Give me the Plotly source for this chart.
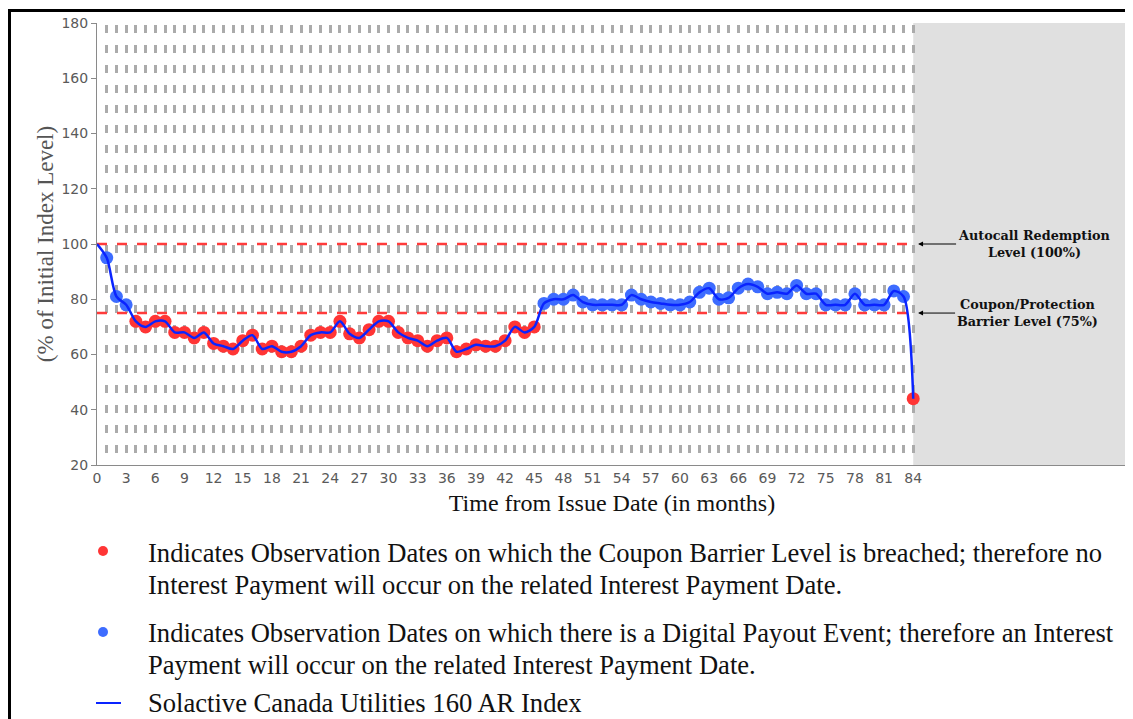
import plotly.graph_objects as go

# ---------------- data ----------------
months = list(range(0, 85))
index_level = [
    100, 95, 81, 78, 72, 70, 72, 72, 68, 68,        # 0-9
    66, 68, 64, 63, 62, 65, 67, 62, 63, 61,         # 10-19
    61, 63, 67, 68, 68, 72, 67.5, 66, 69, 72,       # 20-29
    72, 68, 66, 65, 63, 65, 66, 61, 62, 63.5,       # 30-39
    63, 63, 65, 70, 68, 70, 78.5, 80, 80, 81.5,     # 40-49
    79, 78, 78, 78, 78, 81.5, 80, 79, 78.5, 78,     # 50-59
    78, 79, 82.5, 84, 80, 80.5, 84, 85.5, 84.5, 82, # 60-69
    82.5, 82, 85, 82, 82, 78, 78, 78, 82, 78,       # 70-79
    78, 78, 83, 81, 44,                             # 80-84
]
autocall_level = 100
coupon_barrier = 75
maturity_month = 84
x_tick_labels = [str(m) if m % 3 == 0 else "" for m in months]
y_tick_values = [20, 40, 60, 80, 100, 120, 140, 160, 180]

legend_lines_red = [
    "Indicates Observation Dates on which the Coupon Barrier Level is breached; therefore no",
    "Interest Payment will occur on the related Interest Payment Date.",
]
legend_lines_blue = [
    "Indicates Observation Dates on which there is a Digital Payout Event; therefore an Interest",
    "Payment will occur on the related Interest Payment Date.",
]
legend_line_text = "Solactive Canada Utilities 160 AR Index"

# ---------------- layout geometry ----------------
# the page body has an 8px margin, so figure coords = page coords - 8
OFF = 8
W, H = 1133 - OFF, 719 - OFF
L, R, T, B = 97 - OFF, 1127 - OFF, 23 - OFF, 465 - OFF
PW, PH = R - L, B - T


def px(xpage):
    return (xpage - OFF - L) / PW


def py(ypage):
    return (B - (ypage - OFF)) / PH


RED_MK = "#ff3535"
BLUE_MK = "#3d6cff"
LINE_BLUE = "#0a24ff"

obs_x = months[1:]
obs_y = index_level[1:]
red_x = [m for m, v in zip(obs_x, obs_y) if v < coupon_barrier]
red_y = [v for v in obs_y if v < coupon_barrier]
blue_x = [m for m, v in zip(obs_x, obs_y) if v >= coupon_barrier]
blue_y = [v for v in obs_y if v >= coupon_barrier]

fig = go.Figure()
for lvl in (autocall_level, coupon_barrier):
    fig.add_trace(go.Scatter(
        x=[0, maturity_month], y=[lvl, lvl], mode="lines",
        line=dict(color="#ff3b3b", width=2.5, dash="10px,10px"),
        hoverinfo="skip", showlegend=False))
fig.add_trace(go.Scatter(x=red_x, y=red_y, mode="markers",
                         marker=dict(color=RED_MK, size=13, line=dict(width=0)),
                         showlegend=False))
fig.add_trace(go.Scatter(x=blue_x, y=blue_y, mode="markers",
                         marker=dict(color=BLUE_MK, size=13, line=dict(width=0)),
                         showlegend=False))
fig.add_trace(go.Scatter(x=months, y=index_level, mode="lines",
                         line=dict(color=LINE_BLUE, width=2.5, shape="spline", smoothing=0.8),
                         showlegend=False))

shapes = [
    # grey post-maturity region
    dict(type="rect", xref="x", yref="y", x0=maturity_month, x1=106, y0=20, y1=180,
         fillcolor="#e0e0e0", line=dict(width=0), layer="below"),
    dict(type="line", xref="paper", yref="paper", x0=1, x1=1, y0=0, y1=1,
         line=dict(color="#9a9a9a", width=1)),
    # outer black frame
    dict(type="rect", xref="paper", yref="paper", x0=px(9.5), x1=px(1300), y0=py(900), y1=py(10.5),
         line=dict(color="black", width=3), fillcolor="rgba(0,0,0,0)"),
    # legend symbols
    dict(type="circle", xref="paper", yref="paper", x0=px(98), x1=px(108), y0=py(556), y1=py(546),
         fillcolor=RED_MK, line=dict(width=0)),
    dict(type="circle", xref="paper", yref="paper", x0=px(98), x1=px(108), y0=py(637), y1=py(627),
         fillcolor=BLUE_MK, line=dict(width=0)),
    dict(type="line", xref="paper", yref="paper", x0=px(96), x1=px(121), y0=py(703), y1=py(703),
         line=dict(color=LINE_BLUE, width=2)),
]

LEG_FONT = dict(family="Liberation Serif, Times New Roman, serif", size=26.6, color="#111111")
annotations = []
for txt, yc in zip(legend_lines_red + legend_lines_blue + [legend_line_text],
                   [553, 585, 633, 665, 703]):
    annotations.append(dict(xref="paper", yref="paper", x=px(146), y=py(yc), text=txt,
                            showarrow=False, xanchor="left", yanchor="middle", font=LEG_FONT))

NOTE_FONT = dict(family="DejaVu Serif, serif", size=12.8, color="#111111")
annotations.append(dict(xref="x", yref="y", x=84.5, y=autocall_level,
                        text="<b>Autocall Redemption<br>Level (100%)</b>",
                        showarrow=True, ax=116, ay=0, arrowhead=2, arrowsize=1, arrowwidth=1,
                        arrowcolor="black", align="center", font=NOTE_FONT))
annotations.append(dict(xref="x", yref="y", x=84.5, y=coupon_barrier,
                        text="<b>Coupon/Protection<br>Barrier Level (75%)</b>",
                        showarrow=True, ax=109, ay=0, arrowhead=2, arrowsize=1, arrowwidth=1,
                        arrowcolor="black", align="center", font=NOTE_FONT))

fig.update_layout(
    width=W, height=H,
    margin=dict(l=L, r=W - R, t=T, b=H - B, pad=0),
    paper_bgcolor="white", plot_bgcolor="white",
    shapes=shapes, annotations=annotations,
    xaxis=dict(
        range=[0, 106], tickmode="array", tickvals=months, ticktext=x_tick_labels,
        showgrid=True, gridcolor="#ababab", gridwidth=2.5, griddash="0px,2px,8px,10px",
        showline=True, linecolor="#8a8a8a", linewidth=1, ticks="", zeroline=False,
        tickfont=dict(family="DejaVu Sans, sans-serif", size=14, color="#5a5a5a"),
        title=dict(text="Time from Issue Date (in months)", standoff=9,
                   font=dict(family="Liberation Serif, serif", size=24, color="#111111")),
        fixedrange=True,
    ),
    yaxis=dict(
        range=[20, 180], tickmode="array", tickvals=y_tick_values,
        showgrid=False, showline=True, linecolor="#8a8a8a", linewidth=1,
        ticks="outside", ticklen=5, tickcolor="#8a8a8a", zeroline=False,
        tickfont=dict(family="DejaVu Sans, sans-serif", size=14, color="#5a5a5a"),
        title=dict(text="(% of Initial Index Level)", standoff=1,
                   font=dict(family="Liberation Serif, serif", size=23, color="#555555")),
        fixedrange=True,
    ),
)

fig.write_html("out.html")
